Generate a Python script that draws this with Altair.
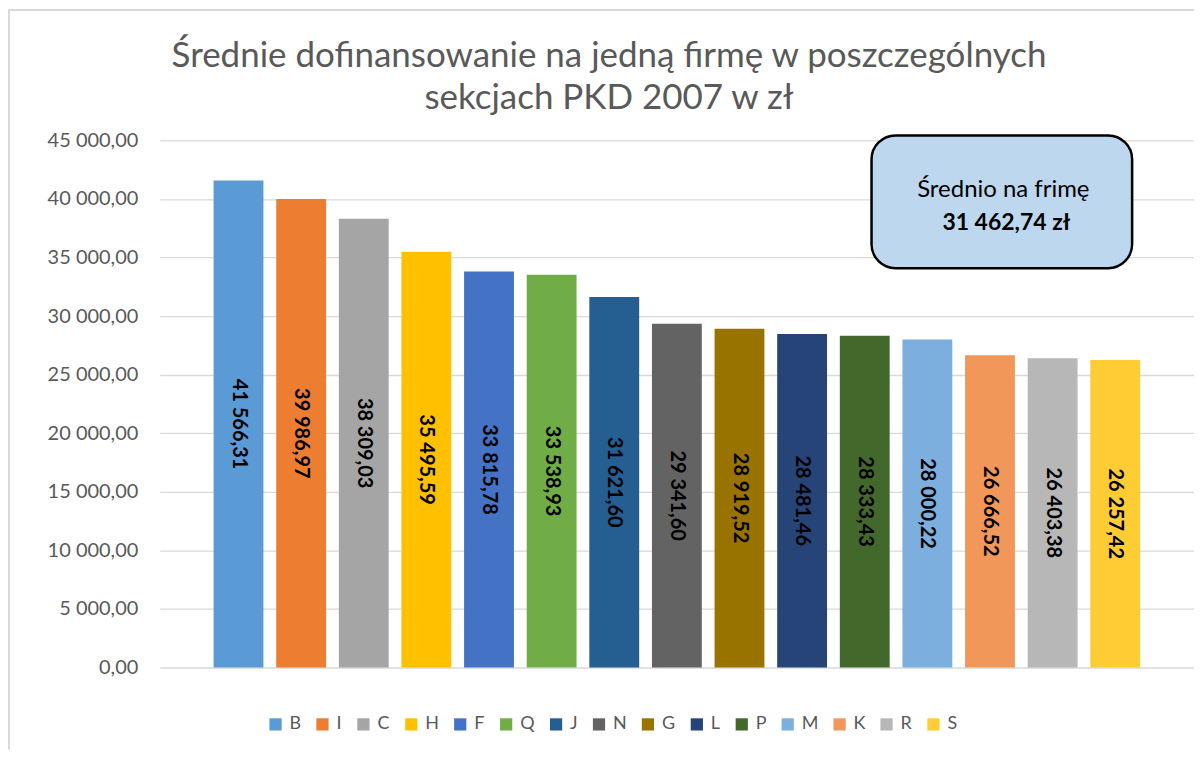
import altair as alt
import pandas as pd

sections = ["B", "I", "C", "H", "F", "Q", "J", "N", "G", "L", "P", "M", "K", "R", "S"]
values = [41566.31, 39986.97, 38309.03, 35495.59, 33815.78, 33538.93, 31621.60,
          29341.60, 28919.52, 28481.46, 28333.43, 28000.22, 26666.52, 26403.38, 26257.42]
colors = ["#5B9BD5", "#ED7D31", "#A5A5A5", "#FFC000", "#4472C4", "#70AD47", "#255E91",
          "#636363", "#997300", "#264478", "#43682B", "#7CAFDD", "#F1975A", "#B7B7B7", "#FFCD33"]
title_lines = ["Średnie dofinansowanie na jedną firmę w poszczególnych", "sekcjach PKD 2007 w zł"]
note_lines = ["Średnio na frimę", "31 462,74 zł"]


def pl(v):
    return f"{v:,.2f}".replace(",", " ").replace(".", ",")


df = pd.DataFrame({"sekcja": sections, "wartosc": values,
                   "etykieta": [pl(v) for v in values]})

FONT = "Lato"
GREY = "#595959"
W, H = 1036, 528

x_enc = alt.X("sekcja:N", sort=sections, axis=None,
              scale=alt.Scale(paddingInner=0.204, paddingOuter=0.86))

bars = alt.Chart(df).mark_bar().encode(
    x=x_enc,
    y=alt.Y("wartosc:Q", title=None,
            scale=alt.Scale(domain=[0, 45000], nice=False),
            axis=alt.Axis(values=list(range(0, 45001, 5000)), domain=False, ticks=False,
                          tickSize=0, labelPadding=22, labelFontSize=20, labelFont=FONT,
                          labelColor=GREY, gridColor="#D9D9D9", gridWidth=1.3,
                          labelExpr="replace(replace(format(datum.value, ',.2f'), regexp(',', 'g'), ' '), '.', ',')")),
    color=alt.Color("sekcja:N", sort=sections,
                    scale=alt.Scale(domain=sections, range=colors),
                    legend=alt.Legend(title=None, orient="none", direction="horizontal",
                                      columns=15, legendX=107, legendY=576,
                                      symbolType="square", symbolSize=150,
                                      symbolStrokeWidth=0, labelFont=FONT, labelFontSize=18,
                                      labelColor=GREY, labelOffset=5, columnPadding=12)),
)

labels = alt.Chart(df).transform_calculate(mid="datum.wartosc / 2").mark_text(
    angle=90, font=FONT, fontSize=20, fontWeight="bold", color="black",
    align="center", baseline="middle"
).encode(x=x_enc, y=alt.Y("mid:Q"), text="etykieta:N")

one = pd.DataFrame({"k": [0]})
box = alt.Chart(one).mark_rect(
    fill="#BDD7EE", stroke="black", strokeWidth=2.5, cornerRadius=24
).encode(x=alt.value(713), x2=alt.value(974), y=alt.value(-5), y2=alt.value(128))

note1 = alt.Chart(pd.DataFrame({"t": [note_lines[0]]})).mark_text(
    font=FONT, fontSize=24, color="black", align="center", baseline="middle"
).encode(x=alt.value(845), y=alt.value(50), text="t:N")
note2 = alt.Chart(pd.DataFrame({"t": [note_lines[1]]})).mark_text(
    font=FONT, fontSize=23, fontWeight="bold", color="black", align="center", baseline="middle"
).encode(x=alt.value(848), y=alt.value(83), text="t:N")

title1 = alt.Chart(pd.DataFrame({"t": [title_lines[0]]})).mark_text(
    font=FONT, fontSize=35, color=GREY, align="center", baseline="middle"
).encode(x=alt.value(450), y=alt.value(-85), text="t:N")
title2 = alt.Chart(pd.DataFrame({"t": [title_lines[1]]})).mark_text(
    font=FONT, fontSize=35, color=GREY, align="center", baseline="middle"
).encode(x=alt.value(450), y=alt.value(-42), text="t:N")

border_left = alt.Chart(one).mark_rule(color="#D9D9D9", strokeWidth=2).encode(
    x=alt.value(-151), y=alt.value(-131), y2=alt.value(610))
border_top = alt.Chart(one).mark_rule(color="#D9D9D9", strokeWidth=2).encode(
    y=alt.value(-130.5), x=alt.value(-152), x2=alt.value(W + 4))

chart = alt.layer(border_left, border_top, bars, labels, box, note1, note2, title1, title2).properties(
    width=W, height=H,
    autosize=alt.AutoSizeParams(type="none"),
    padding={"left": 152, "top": 132, "right": 0, "bottom": 82},
).configure_view(stroke=None)

chart.save("out.html", embed_options={"renderer": "svg", "actions": False})
